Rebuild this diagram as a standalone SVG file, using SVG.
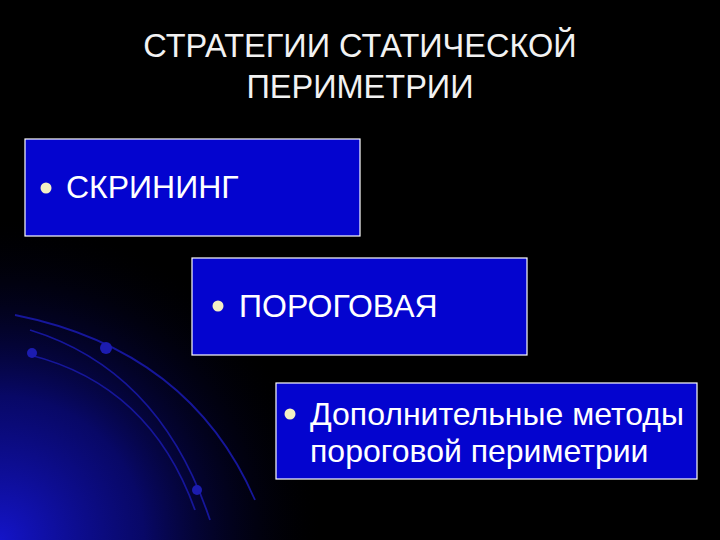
<svg xmlns="http://www.w3.org/2000/svg" width="720" height="540" viewBox="0 0 720 540">
<defs>
<radialGradient id="glow" cx="0" cy="540" r="320" gradientUnits="userSpaceOnUse">
<stop offset="0" stop-color="#1414c8"/>
<stop offset="0.45" stop-color="#0a0a80" stop-opacity="0.8"/>
<stop offset="1" stop-color="#000010" stop-opacity="0"/>
</radialGradient>
<style>
.box{fill:#0404cf;stroke:#ffffff;stroke-width:1.2}
.t{font-family:"Liberation Sans",Arial,sans-serif;fill:#ffffff;font-size:32px}
.title{font-family:"Liberation Sans",Arial,sans-serif;fill:#f2f2f2;font-size:32.5px;text-anchor:middle}
.bul{fill:#f4f0c4}
.arc{fill:none;stroke:#16169a;stroke-width:1.8}
.dot{fill:#1c1cb0}
</style>
</defs>
<rect width="720" height="540" fill="#000000"/>
<rect width="720" height="540" fill="url(#glow)"/>
<g id="decor">
<path class="arc" d="M 15 315 Q 190 350 255 500"/>
<path class="arc" d="M 30 330 Q 160 370 210 520"/>
<path class="arc" d="M 30 355 Q 150 385 195 510"/>
<circle class="dot" cx="32" cy="353" r="5"/>
<circle class="dot" cx="106" cy="348" r="6"/>
<circle class="dot" cx="197" cy="490" r="5"/>
</g>
<g id="title">
<text class="title" x="360" y="57">СТРАТЕГИИ СТАТИЧЕСКОЙ</text>
<text class="title" x="360" y="98">ПЕРИМЕТРИИ</text>
</g>
<g id="screening">
<rect class="box" x="25" y="139" width="335" height="97"/>
<circle class="bul" cx="46" cy="188" r="5.5"/>
<text class="t" x="66" y="198">СКРИНИНГ</text>
</g>
<g id="threshold">
<rect class="box" x="192" y="258" width="335" height="97"/>
<circle class="bul" cx="218" cy="306" r="5.5"/>
<text class="t" x="239" y="317">ПОРОГОВАЯ</text>
</g>
<g id="additional">
<rect class="box" x="276" y="383" width="421" height="96"/>
<circle class="bul" cx="290" cy="414" r="5.5"/>
<text class="t" x="310" y="425">Дополнительные методы</text>
<text class="t" x="310" y="462">пороговой периметрии</text>
</g>
<g id="connectors"/>
</svg>
